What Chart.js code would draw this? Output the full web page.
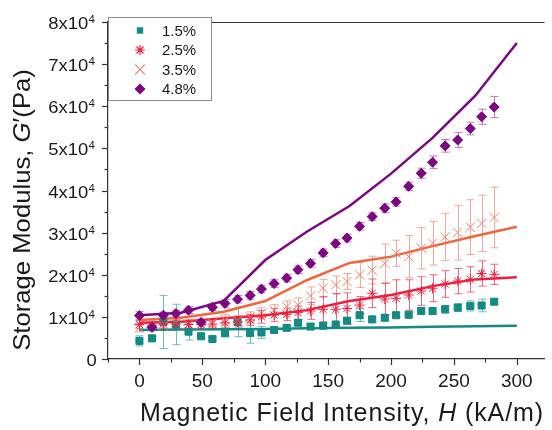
<!DOCTYPE html>
<html>
<head>
<meta charset="utf-8">
<script src="https://cdn.jsdelivr.net/npm/chart.js@4/dist/chart.umd.min.js"></script>
<style>
html, body { margin: 0; padding: 0; background: #fff; }
canvas { display: block; }
</style>
</head>
<body>
<canvas id="chartModulus" width="552" height="430"></canvas>
<script>
// measured field values (kA/m)
const fieldH = [0, 10, 19, 29, 39, 49, 58, 68, 78, 88, 97, 107, 117, 126, 136, 146, 156, 165, 175, 185, 195, 204, 214, 224, 233, 243, 253, 263, 272, 282];

// storage modulus G' (Pa) and error bars
const g15 = [4300, 4900, 8800, 8200, 6500, 5400, 4750, 6100, 8800, 6150, 6300, 6900, 7400, 8600, 7700, 7900, 8200, 9100, 10400, 9400, 9800, 10400, 10500, 11400, 11400, 11800, 12200, 12600, 12700, 13600];
const g15Err = [1200, 500, 6300, 4800, 2000, 500, 500, 600, 3500, 2400, 1450, 600, 600, 600, 600, 600, 600, 700, 1500, 600, 600, 600, 600, 700, 700, 900, 900, 1200, 1500, 600];

const g25 = [8200, 7900, 8300, 8300, 8200, 8200, 8300, 8600, 8800, 9260, 10000, 10450, 10600, 11000, 11400, 11800, 11800, 12000, 12800, 15600, 14250, 14400, 15200, 16150, 16800, 17800, 18500, 18900, 20300, 20100];
const g25Err = [1000, 1000, 1000, 1000, 1000, 1000, 1000, 1200, 1200, 1300, 1500, 1500, 1500, 1600, 2000, 3000, 3700, 3700, 2000, 3400, 3700, 4400, 3600, 3400, 3200, 3150, 3000, 3000, 3000, 2400];

const g35 = [7400, 8500, 7800, 8700, 8300, 8100, 8600, 9300, 9100, 10000, 10850, 11600, 12400, 12800, 15000, 16800, 17600, 18400, 19950, 21100, 22700, 25100, 24300, 26300, 27500, 29000, 30000, 31300, 32200, 33600];
const g35Err = [1000, 1000, 1000, 1000, 1000, 1000, 1000, 1200, 1200, 1200, 1300, 1300, 1400, 1700, 2100, 2100, 2100, 1900, 3000, 3300, 4600, 3100, 5000, 4900, 5200, 5600, 6500, 6500, 6700, 7200];

const g48 = [10300, 7500, 10400, 10800, 11600, 8700, 12300, 13200, 14200, 15100, 16600, 17900, 19200, 21200, 22700, 25200, 27400, 28700, 31500, 33800, 35800, 37300, 41000, 44100, 46700, 50600, 52000, 54700, 57500, 59800];
const g48Err = [1000, 700, 700, 700, 800, 700, 800, 900, 900, 900, 900, 900, 900, 900, 900, 900, 900, 900, 900, 900, 1000, 1000, 1000, 1200, 1500, 1500, 1800, 1500, 1800, 2500];

// model curves
const modelH = [0, 33, 67, 100, 133, 167, 200, 233, 267, 300];
const m15 = [6900, 7000, 7050, 7100, 7300, 7400, 7500, 7650, 7800, 7900];
const m25 = [8600, 8850, 9650, 10400, 11600, 13750, 15200, 17300, 18900, 19400];
const m35 = [9250, 9800, 11200, 13750, 18700, 22800, 24300, 26800, 29200, 31400];
const m48 = [10400, 11000, 13800, 23500, 30200, 36300, 44000, 52500, 62500, 75000];

const seriesLabels = ['1.5%', '2.5%', '3.5%', '4.8%'];
const xTicks = [0, 50, 100, 150, 200, 250, 300];
const yTicks = [0, 10000, 20000, 30000, 40000, 50000, 60000, 70000, 80000];
const yTickLabels = ['0', '1x10^4', '2x10^4', '3x10^4', '4x10^4', '5x10^4', '6x10^4', '7x10^4', '8x10^4'];
const xTitle = [['Magnetic Field Intensity, ', false], ['H', true], [' (kA/m)', false]];
const yTitle = [['Storage Modulus, ', false], ['G', true], ['\u2032(Pa)', false]];

const colTeal = '#138a84';
const colRed = '#f01e3c';
const colSalmon = '#f4806e';
const colOrange = '#f0653c';
const colPurple = '#7e0680';

const pts = (xs, ys) => xs.map((x, i) => ({ x: x, y: ys[i] }));

function drawMarker(ctx, style, x, y, r, color) {
    ctx.save();
    ctx.strokeStyle = color;
    ctx.fillStyle = color;
    ctx.lineWidth = 1.2;
    ctx.beginPath();
    if (style === 'rect') {
        ctx.fillRect(x - r, y - r, 2 * r, 2 * r);
    } else if (style === 'rectRot') {
        ctx.moveTo(x, y - r); ctx.lineTo(x + r, y); ctx.lineTo(x, y + r); ctx.lineTo(x - r, y);
        ctx.closePath(); ctx.fill();
    } else if (style === 'crossRot') {
        const d = r * 0.75;
        ctx.moveTo(x - d, y - d); ctx.lineTo(x + d, y + d);
        ctx.moveTo(x + d, y - d); ctx.lineTo(x - d, y + d);
        ctx.stroke();
    } else if (style === 'star') {
        const d = r * 0.7;
        ctx.moveTo(x, y - r); ctx.lineTo(x, y + r);
        ctx.moveTo(x - r, y); ctx.lineTo(x + r, y);
        ctx.moveTo(x - d, y - d); ctx.lineTo(x + d, y + d);
        ctx.moveTo(x + d, y - d); ctx.lineTo(x - d, y + d);
        ctx.stroke();
    }
    ctx.restore();
}

function richWidth(ctx, parts, size) {
    let w = 0;
    parts.forEach(([t, it]) => {
        ctx.font = (it ? 'italic ' : '') + size + 'px Arial';
        w += ctx.measureText(t).width;
    });
    return w;
}

function drawRich(ctx, parts, cx, y, size, spacing) {
    ctx.letterSpacing = spacing + 'px';
    let x = cx - richWidth(ctx, parts, size) / 2;
    ctx.textAlign = 'left';
    ctx.textBaseline = 'alphabetic';
    parts.forEach(([t, it]) => {
        ctx.font = (it ? 'italic ' : '') + size + 'px Arial';
        ctx.fillText(t, x, y);
        x += ctx.measureText(t).width;
    });
    ctx.letterSpacing = '0px';
}

const errorSets = [
    { values: g15, errs: g15Err, color: 'rgba(60,170,165,0.75)' },
    { values: g35, errs: g35Err, color: 'rgba(244,128,110,0.7)' },
    { values: g25, errs: g25Err, color: 'rgba(240,40,70,0.7)' },
    { values: g48, errs: g48Err, color: 'rgba(170,80,170,0.75)' }
];

const decor = {
    id: 'decor',
    beforeDatasetsDraw(chart) {
        const ctx = chart.ctx;
        const xs = chart.scales.x, ys = chart.scales.y;
        ctx.save();
        ctx.lineWidth = 1;
        errorSets.forEach(set => {
            ctx.strokeStyle = set.color;
            fieldH.forEach((h, i) => {
                const px = Math.round(xs.getPixelForValue(h)) + 0.5;
                const top = ys.getPixelForValue(set.values[i] + set.errs[i]);
                const bot = ys.getPixelForValue(set.values[i] - set.errs[i]);
                ctx.beginPath();
                ctx.moveTo(px, top); ctx.lineTo(px, bot);
                ctx.moveTo(px - 4, top); ctx.lineTo(px + 4, top);
                ctx.moveTo(px - 4, bot); ctx.lineTo(px + 4, bot);
                ctx.stroke();
            });
        });
        ctx.restore();
    },
    afterDraw(chart) {
        const ctx = chart.ctx;
        const xs = chart.scales.x, ys = chart.scales.y;
        const area = chart.chartArea;
        ctx.save();
        ctx.strokeStyle = '#333';
        ctx.fillStyle = '#1a1a1a';
        ctx.lineWidth = 1.2;

        // top frame line
        ctx.beginPath();
        ctx.moveTo(area.left, area.top + 0.5);
        ctx.lineTo(area.right, area.top + 0.5);
        ctx.stroke();

        // x ticks (major + minor)
        for (let v = -25; v <= 300; v += 25) {
            const px = Math.round(xs.getPixelForValue(v)) + 0.5;
            const len = v % 50 === 0 ? 6 : 3.5;
            ctx.beginPath();
            ctx.moveTo(px, area.bottom);
            ctx.lineTo(px, area.bottom + len);
            ctx.stroke();
        }
        // y ticks
        for (let v = 0; v <= 80000; v += 5000) {
            const py = Math.round(ys.getPixelForValue(v)) + 0.5;
            const len = v % 10000 === 0 ? 6 : 3.5;
            ctx.beginPath();
            ctx.moveTo(area.left, py);
            ctx.lineTo(area.left - len, py);
            ctx.stroke();
        }

        // x tick labels
        ctx.font = '19px Arial';
        ctx.textAlign = 'center';
        ctx.textBaseline = 'alphabetic';
        xTicks.forEach(v => ctx.fillText(String(v), xs.getPixelForValue(v), 387));

        // y tick labels with superscript exponent (slightly wide type, like the original)
        yTicks.forEach((v, i) => {
            const [base, sup] = yTickLabels[i].split('^');
            const py = ys.getPixelForValue(v);
            ctx.save();
            ctx.translate(95, 0);
            ctx.scale(1.15, 1);
            let right = 0;
            if (sup) {
                ctx.font = '10px Arial';
                const sw = ctx.measureText(sup).width;
                ctx.textAlign = 'left';
                ctx.fillText(sup, right - sw, py + 1);
                right -= sw + 0.3;
            } else {
                right = 1.5;
            }
            ctx.font = '16px Arial';
            ctx.textAlign = 'right';
            ctx.fillText(base, right, py + 7);
            ctx.restore();
        });

        // axis titles
        drawRich(ctx, xTitle, 342, 421, 25, 0.9);
        ctx.save();
        ctx.translate(30, 210);
        ctx.rotate(-Math.PI / 2);
        ctx.scale(1.07, 1);
        drawRich(ctx, yTitle, 0, 0, 24, 0);
        ctx.restore();

        // legend box
        ctx.fillStyle = '#fff';
        ctx.fillRect(108, 17, 103, 84);
        ctx.strokeStyle = '#8a8a8a';
        ctx.lineWidth = 1;
        ctx.strokeRect(108.5, 17.5, 103, 83);
        const legendStyles = [['rect', 3.2, colTeal], ['star', 5, colRed], ['crossRot', 6.5, colSalmon], ['rectRot', 5.5, colPurple]];
        const rows = [30.5, 50, 69.5, 89];
        ctx.font = '15px Arial';
        ctx.textAlign = 'left';
        ctx.textBaseline = 'middle';
        seriesLabels.forEach((lab, i) => {
            const [st, r, c] = legendStyles[i];
            drawMarker(ctx, st, 140, rows[i], r, c);
            ctx.fillStyle = '#1a1a1a';
            ctx.fillText(lab, 162, rows[i] + 1);
        });
        ctx.restore();
    }
};

const ctx = document.getElementById('chartModulus').getContext('2d');

new Chart(ctx, {
    type: 'scatter',
    data: {
        datasets: [
            { label: seriesLabels[3], data: pts(fieldH, g48), pointStyle: 'rectRot', pointRadius: 5, backgroundColor: colPurple, borderColor: colPurple, borderWidth: 1, order: 1 },
            { label: seriesLabels[1], data: pts(fieldH, g25), pointStyle: 'star', pointRadius: 5, backgroundColor: colRed, borderColor: colRed, borderWidth: 1, order: 2 },
            { label: seriesLabels[2], data: pts(fieldH, g35), pointStyle: 'crossRot', pointRadius: 6.5, backgroundColor: colSalmon, borderColor: colSalmon, borderWidth: 1, order: 3 },
            { label: seriesLabels[0], data: pts(fieldH, g15), pointStyle: 'rect', pointRadius: 5, backgroundColor: colTeal, borderColor: colTeal, borderWidth: 1, order: 4 },
            { label: 'model 4.8%', data: pts(modelH, m48), showLine: true, pointRadius: 0, borderColor: colPurple, borderWidth: 2.5, order: 5 },
            { label: 'model 3.5%', data: pts(modelH, m35), showLine: true, pointRadius: 0, borderColor: colOrange, borderWidth: 2.5, order: 5 },
            { label: 'model 2.5%', data: pts(modelH, m25), showLine: true, pointRadius: 0, borderColor: colRed, borderWidth: 2.5, order: 5 },
            { label: 'model 1.5%', data: pts(modelH, m15), showLine: true, pointRadius: 0, borderColor: colTeal, borderWidth: 2.5, order: 5 }
        ]
    },
    options: {
        responsive: false,
        animation: false,
        devicePixelRatio: 1,
        layout: { padding: { left: 0, top: 22, right: 0, bottom: 0 } },
        plugins: {
            legend: { display: false },
            tooltip: { enabled: false }
        },
        scales: {
            x: {
                type: 'linear',
                min: -25,
                max: 322,
                ticks: { display: false },
                grid: { display: false },
                border: { color: '#333', width: 1.2 },
                afterFit: s => { s.height = 71; }
            },
            y: {
                min: 0,
                max: 80000,
                ticks: { display: false },
                grid: { display: false },
                border: { color: '#333', width: 1.2 },
                afterFit: s => { s.width = 108; }
            }
        }
    },
    plugins: [decor]
});
</script>
</body>
</html>
